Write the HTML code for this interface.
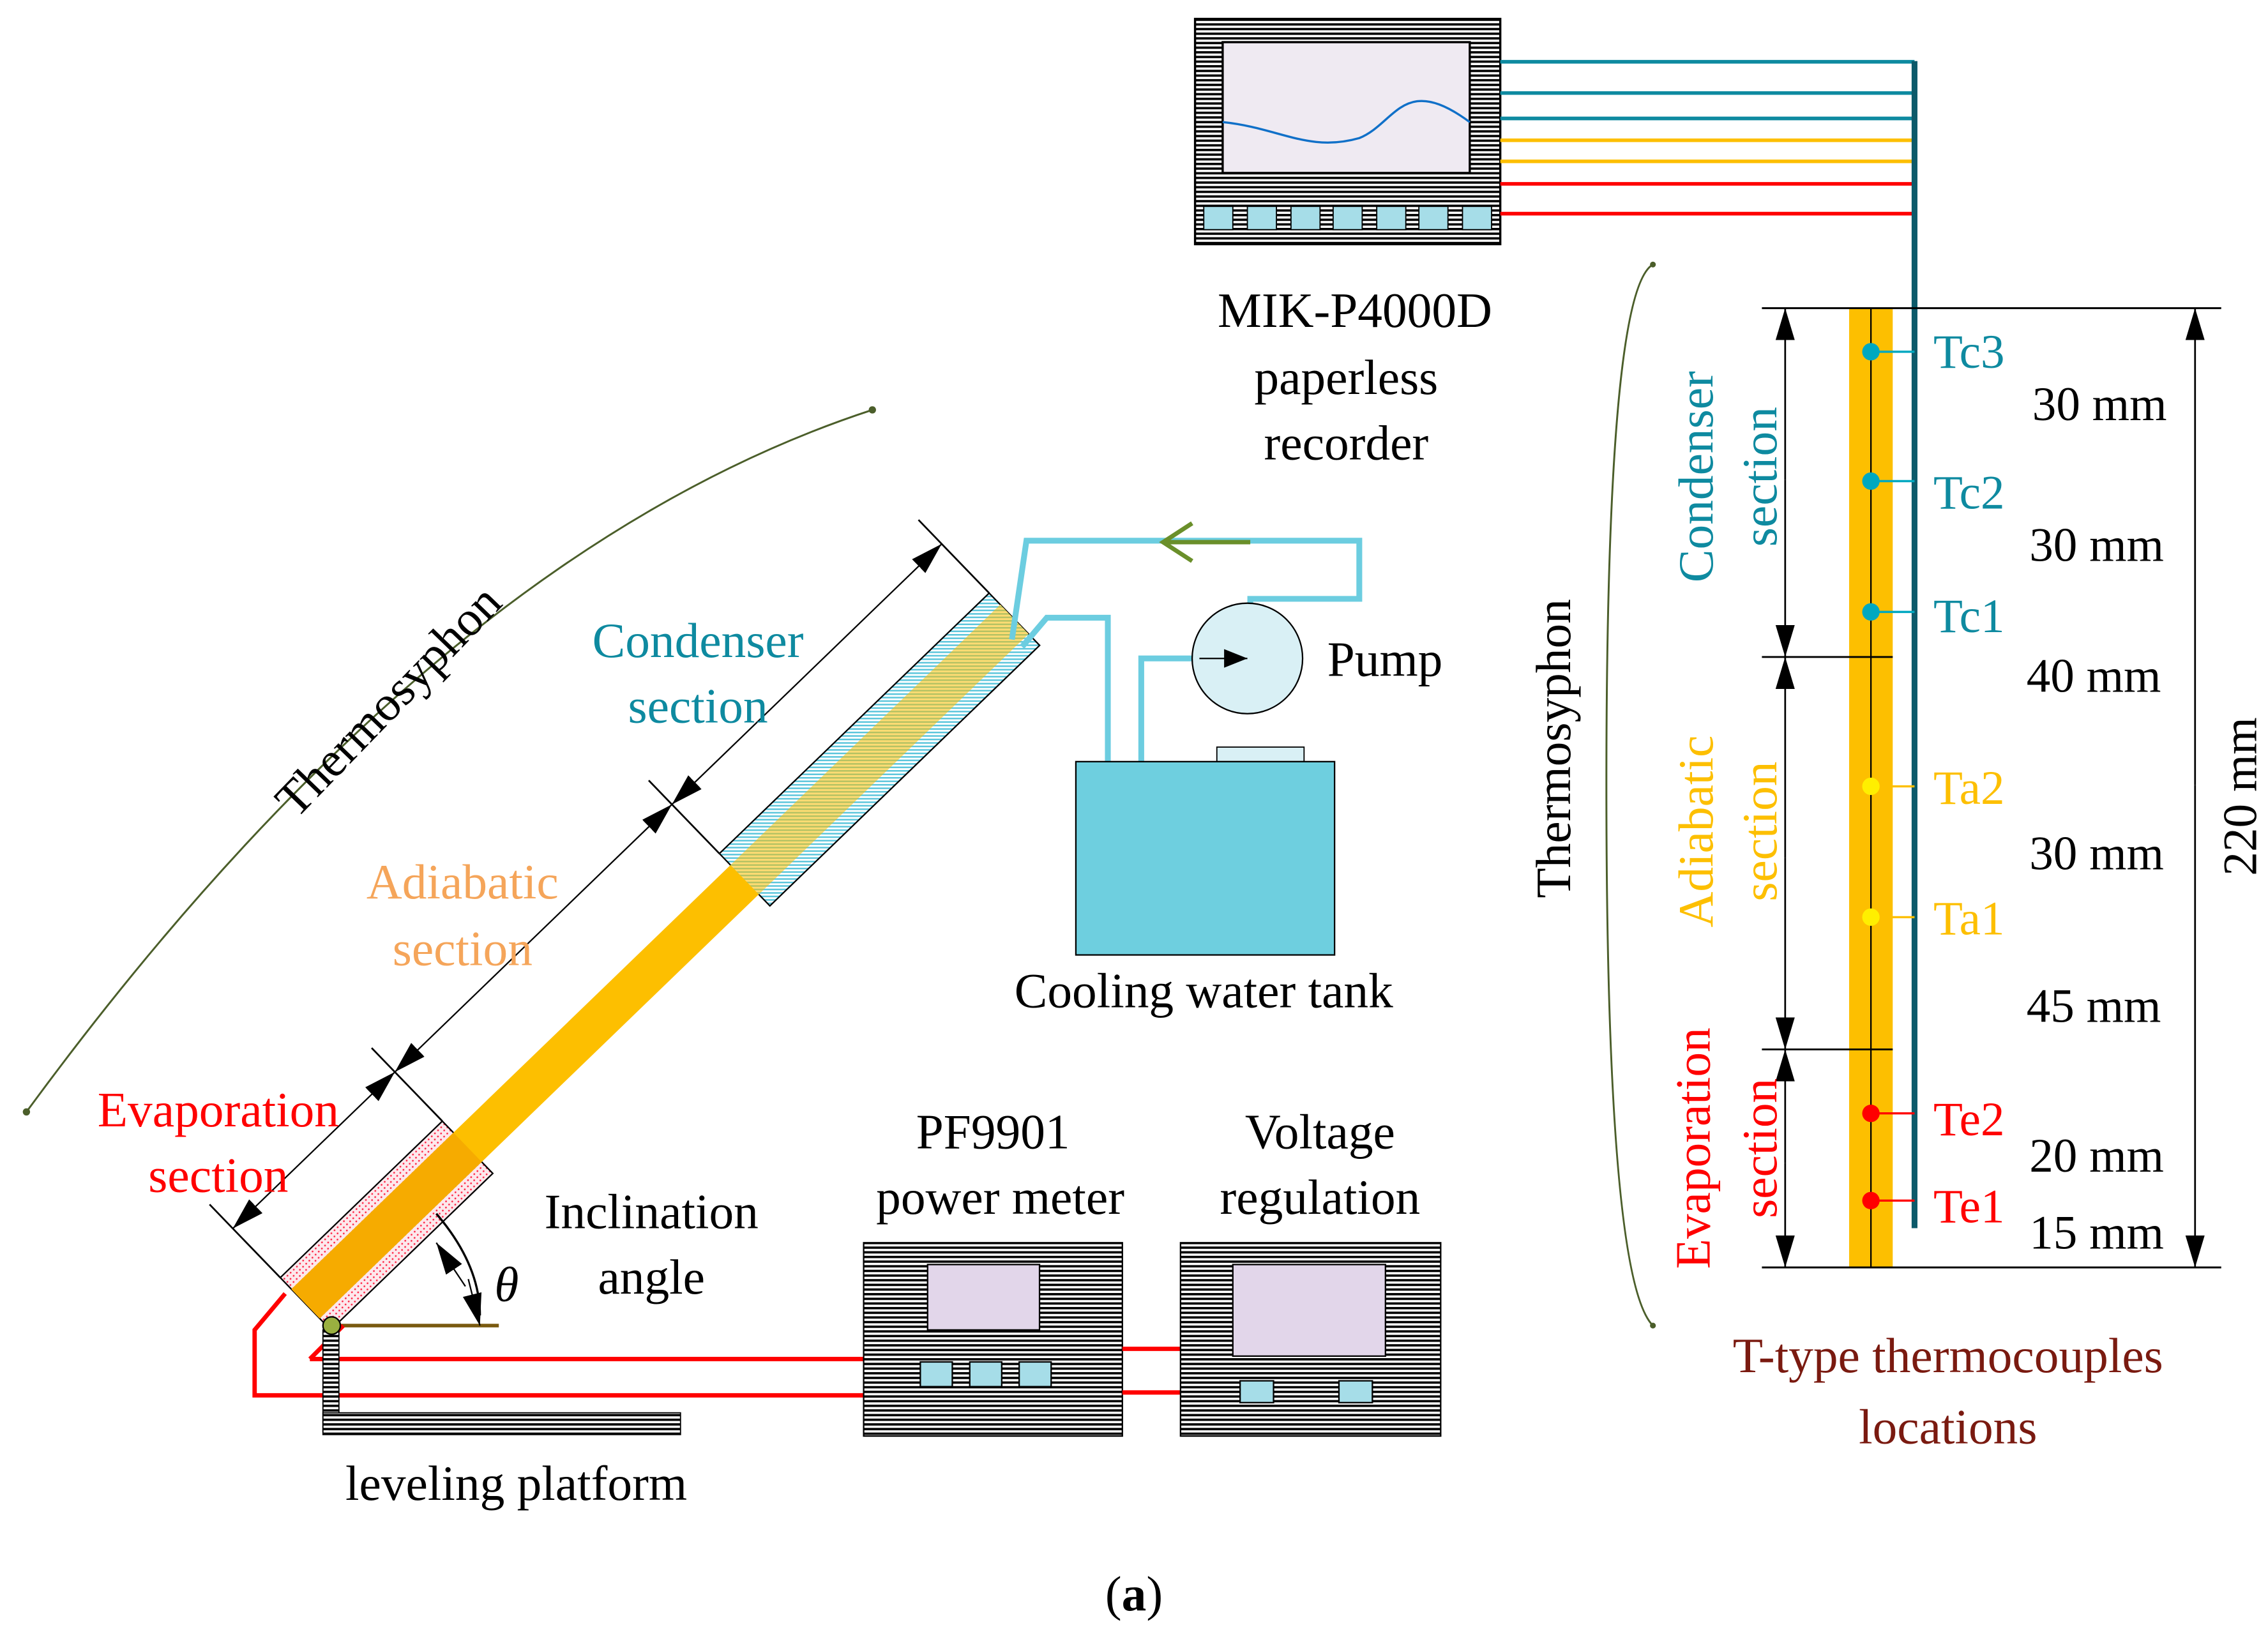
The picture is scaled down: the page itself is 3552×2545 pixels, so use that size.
<!DOCTYPE html>
<html><head><meta charset="utf-8"><style>html,body{margin:0;padding:0;background:#fff}svg{display:block}</style></head>
<body>
<svg width="3552" height="2545" viewBox="0 0 1560 1118" xmlns="http://www.w3.org/2000/svg" font-family="Liberation Serif, serif">
<defs>
<pattern id="st" width="4" height="3.2" patternUnits="userSpaceOnUse"><rect width="4" height="3.2" fill="#fff"/><rect width="4" height="1.6" fill="#000"/></pattern>
<pattern id="cy" width="3" height="2.4" patternUnits="userSpaceOnUse" patternTransform="rotate(44)"><rect width="3" height="2.4" fill="#fff"/><rect width="3" height="1.1" fill="#5cc6dc"/></pattern>
<pattern id="pk" width="3" height="3" patternUnits="userSpaceOnUse"><rect width="3" height="3" fill="#fde8ec"/><circle cx="1.5" cy="1.5" r="0.6" fill="#f24"/></pattern>
<marker id="ah" viewBox="0 0 10 10" refX="10" refY="5" markerWidth="16" markerHeight="16" markerUnits="userSpaceOnUse" orient="auto"><path d="M0,1 L10,5 L0,9z" fill="#000"/></marker>
<marker id="ah2" viewBox="0 0 10 10" refX="10" refY="5" markerWidth="22" markerHeight="30" markerUnits="userSpaceOnUse" orient="auto"><path d="M0,2 L10,5 L0,8z" fill="#000"/></marker>
</defs>

<path d="M18,765 Q300,380 600,282" fill="none" stroke="#4b5e2a" stroke-width="1.3"/>
<circle cx="18" cy="765" r="2.5" fill="#4b5e2a"/><circle cx="600" cy="282" r="2.5" fill="#4b5e2a"/>
<text transform="translate(275,490) rotate(-46)" text-anchor="middle" font-size="34">Thermosyphon</text>

<g transform="translate(210,897) rotate(-44)">
  <rect x="0" y="-25" width="155" height="50" fill="url(#pk)" stroke="#000" stroke-width="1"/>
  <rect x="420" y="-25" width="258" height="50" fill="url(#cy)" stroke="#000" stroke-width="1"/>
  <rect x="0" y="-14" width="678" height="28" fill="#fdbf00"/>
  <rect x="0" y="-14" width="155" height="28" fill="#f2a300" opacity="0.7"/>
  <rect x="420" y="-14" width="258" height="28" fill="url(#cy)" opacity="0.45"/>
  <line x1="0" y1="-95" x2="0" y2="-25" stroke="#000" stroke-width="1.2"/>
  <line x1="155" y1="-95" x2="155" y2="-25" stroke="#000" stroke-width="1.2"/>
  <line x1="420" y1="-95" x2="420" y2="-25" stroke="#000" stroke-width="1.2"/>
  <line x1="678" y1="-95" x2="678" y2="-25" stroke="#000" stroke-width="1.2"/>
  <line x1="78" y1="-72" x2="0" y2="-72" stroke="#000" marker-end="url(#ah2)"/>
  <line x1="78" y1="-72" x2="155" y2="-72" stroke="#000" marker-end="url(#ah2)"/>
  <line x1="285" y1="-72" x2="155" y2="-72" stroke="#000" marker-end="url(#ah2)"/>
  <line x1="285" y1="-72" x2="420" y2="-72" stroke="#000" marker-end="url(#ah2)"/>
  <line x1="547" y1="-72" x2="420" y2="-72" stroke="#000" marker-end="url(#ah2)"/>
  <line x1="547" y1="-72" x2="678" y2="-72" stroke="#000" marker-end="url(#ah2)"/>
</g>
<text x="480" y="452" text-anchor="middle" font-size="34" fill="#0e8aa0">Condenser</text>
<text x="480" y="497" text-anchor="middle" font-size="34" fill="#0e8aa0">section</text>
<text x="318" y="618" text-anchor="middle" font-size="34" fill="#f5a55a">Adiabatic</text>
<text x="318" y="664" text-anchor="middle" font-size="34" fill="#f5a55a">section</text>
<text x="150" y="775" text-anchor="middle" font-size="34" fill="#f00">Evaporation</text>
<text x="150" y="820" text-anchor="middle" font-size="34" fill="#f00">section</text>

<g fill="none" stroke="#6ccde0" stroke-width="4">
<path d="M696,440 L706,372 L935,372 L935,412 L860,412 L860,418"/>
<path d="M703,445 L720,425 L762,425 L762,524"/>
<path d="M785,524 L785,453 L822,453"/>
</g>
<path d="M820,360 L800,373 L820,386 M800,373 L860,373" fill="none" stroke="#6a8f2a" stroke-width="3"/>
<circle cx="858" cy="453" r="38" fill="#d9f0f5" stroke="#000" stroke-width="1"/>
<line x1="825" y1="453" x2="858" y2="453" stroke="#000" marker-end="url(#ah)"/>
<text x="913" y="465" font-size="34">Pump</text>
<rect x="837" y="514" width="60" height="10" fill="#d9f0f5" stroke="#000" stroke-width="0.8"/>
<rect x="740" y="524" width="178" height="133" fill="#6ecfdf" stroke="#000" stroke-width="1"/>
<text x="828" y="693" text-anchor="middle" font-size="34">Cooling water tank</text>

<line x1="225" y1="912" x2="343" y2="912" stroke="#7a5a10" stroke-width="2.5"/>
<path d="M196,890 L175,915 L175,960 L594,960 M213,935 L236,912 M213,935 L594,935" fill="none" stroke="#f00" stroke-width="3"/>
<rect x="222" y="915" width="11" height="70" fill="url(#st)" stroke="#000" stroke-width="0.8"/>
<rect x="222" y="972" width="246" height="15" fill="url(#st)" stroke="#000" stroke-width="0.8"/>
<circle cx="228" cy="912" r="6" fill="#9ab040" stroke="#000" stroke-width="1"/>
<path d="M300,835 Q330,870 330,905" fill="none" stroke="#000" stroke-width="1.5"/>
<line x1="320" y1="885" x2="300" y2="855" stroke="#000" marker-end="url(#ah2)"/>
<line x1="322" y1="880" x2="330" y2="912" stroke="#000" marker-end="url(#ah2)"/>
<text x="340" y="895" font-size="34" font-style="italic">θ</text>
<text x="448" y="845" text-anchor="middle" font-size="34">Inclination</text>
<text x="448" y="890" text-anchor="middle" font-size="34">angle</text>
<text x="355" y="1032" text-anchor="middle" font-size="34">leveling platform</text>

<rect x="594" y="855" width="178" height="133" fill="url(#st)" stroke="#000"/>
<rect x="638" y="870" width="77" height="45" fill="#e2d6ea" stroke="#000"/>
<rect x="633" y="937" width="22" height="17" fill="#a6dde8" stroke="#000"/>
<rect x="667" y="937" width="22" height="17" fill="#a6dde8" stroke="#000"/>
<rect x="701" y="937" width="22" height="17" fill="#a6dde8" stroke="#000"/>
<text x="683" y="790" text-anchor="middle" font-size="34">PF9901</text>
<text x="688" y="835" text-anchor="middle" font-size="34">power meter</text>
<path d="M772,928 L812,928 M772,958 L812,958" stroke="#f00" stroke-width="3"/>
<rect x="812" y="855" width="179" height="133" fill="url(#st)" stroke="#000"/>
<rect x="848" y="870" width="105" height="63" fill="#e2d6ea" stroke="#000"/>
<rect x="853" y="950" width="23" height="15" fill="#a6dde8" stroke="#000"/>
<rect x="921" y="950" width="23" height="15" fill="#a6dde8" stroke="#000"/>
<text x="908" y="790" text-anchor="middle" font-size="34">Voltage</text>
<text x="908" y="835" text-anchor="middle" font-size="34">regulation</text>

<rect x="822" y="13" width="210" height="155" fill="url(#st)" stroke="#000" stroke-width="1.5"/>
<rect x="841" y="29" width="170" height="90" fill="#efeaf2" stroke="#000" stroke-width="1.5"/>
<path d="M841,84 C880,88 900,105 935,95 C960,85 965,50 1011,84" fill="none" stroke="#1070c8" stroke-width="1.5"/>
<g fill="#a6dde8" stroke="#000" stroke-width="0.8">
<rect x="828" y="142" width="20" height="16"/><rect x="858" y="142" width="20" height="16"/><rect x="888" y="142" width="20" height="16"/><rect x="917" y="142" width="20" height="16"/><rect x="947" y="142" width="20" height="16"/><rect x="976" y="142" width="20" height="16"/><rect x="1006" y="142" width="20" height="16"/></g>
<g stroke-width="2.5">
<line x1="1032" y1="42.5" x2="1317" y2="42.5" stroke="#0e8aa0"/>
<line x1="1032" y1="64" x2="1317" y2="64" stroke="#0e8aa0"/>
<line x1="1032" y1="81.5" x2="1317" y2="81.5" stroke="#0e8aa0"/>
<line x1="1032" y1="96.5" x2="1317" y2="96.5" stroke="#fdbf00"/>
<line x1="1032" y1="111" x2="1317" y2="111" stroke="#fdbf00"/>
<line x1="1032" y1="126.5" x2="1317" y2="126.5" stroke="#f00"/>
<line x1="1032" y1="147" x2="1317" y2="147" stroke="#f00"/>
</g>
<text x="932" y="225" text-anchor="middle" font-size="34">MIK-P4000D</text>
<text x="926" y="271" text-anchor="middle" font-size="34">paperless</text>
<text x="926" y="316" text-anchor="middle" font-size="34">recorder</text>

<path d="M1137,182 Q1105,200 1105,540 Q1105,880 1137,912" fill="none" stroke="#4b5e2a" stroke-width="1.3"/>
<circle cx="1137" cy="182" r="2" fill="#4b5e2a"/><circle cx="1137" cy="912" r="2" fill="#4b5e2a"/>
<text transform="translate(1080,515) rotate(-90)" text-anchor="middle" font-size="34">Thermosyphon</text>
<rect x="1272" y="212" width="30" height="660" fill="#fdbf00"/>
<line x1="1287" y1="212" x2="1287" y2="872" stroke="#000" stroke-width="1"/>
<line x1="1317" y1="42" x2="1317" y2="845" stroke="#0c5a6a" stroke-width="4"/>
<g stroke="#000" stroke-width="1.3">
<line x1="1212" y1="212" x2="1528" y2="212"/><line x1="1212" y1="872" x2="1528" y2="872"/>
<line x1="1212" y1="452" x2="1302" y2="452"/><line x1="1212" y1="722" x2="1302" y2="722"/>
</g>
<g stroke="#000" stroke-width="1.2">
<line x1="1228" y1="330" x2="1228" y2="212" marker-end="url(#ah2)"/><line x1="1228" y1="330" x2="1228" y2="452" marker-end="url(#ah2)"/>
<line x1="1228" y1="590" x2="1228" y2="452" marker-end="url(#ah2)"/><line x1="1228" y1="590" x2="1228" y2="722" marker-end="url(#ah2)"/>
<line x1="1228" y1="800" x2="1228" y2="722" marker-end="url(#ah2)"/><line x1="1228" y1="800" x2="1228" y2="872" marker-end="url(#ah2)"/>
<line x1="1510" y1="540" x2="1510" y2="212" marker-end="url(#ah2)"/><line x1="1510" y1="540" x2="1510" y2="872" marker-end="url(#ah2)"/>
</g>
<g stroke-width="1.5">
<line x1="1287" y1="242" x2="1317" y2="242" stroke="#00a8c0"/><line x1="1287" y1="331" x2="1317" y2="331" stroke="#00a8c0"/><line x1="1287" y1="421" x2="1317" y2="421" stroke="#00a8c0"/>
<line x1="1287" y1="541" x2="1317" y2="541" stroke="#fdbf00"/><line x1="1287" y1="631" x2="1317" y2="631" stroke="#fdbf00"/>
<line x1="1287" y1="766" x2="1317" y2="766" stroke="#f00"/><line x1="1287" y1="826" x2="1317" y2="826" stroke="#f00"/>
</g>
<circle cx="1287" cy="242" r="6" fill="#00a8c0"/><circle cx="1287" cy="331" r="6" fill="#00a8c0"/><circle cx="1287" cy="421" r="6" fill="#00a8c0"/>
<circle cx="1287" cy="541" r="6" fill="#ffef00"/><circle cx="1287" cy="631" r="6" fill="#ffef00"/>
<circle cx="1287" cy="766" r="6" fill="#f00"/><circle cx="1287" cy="826" r="6" fill="#f00"/>
<g font-size="33">
<text x="1330" y="253" fill="#0e8aa0">Tc3</text><text x="1330" y="350" fill="#0e8aa0">Tc2</text><text x="1330" y="435" fill="#0e8aa0">Tc1</text>
<text x="1330" y="553" fill="#fdbf00">Ta2</text><text x="1330" y="643" fill="#fdbf00">Ta1</text>
<text x="1330" y="781" fill="#f00">Te2</text><text x="1330" y="841" fill="#f00">Te1</text>
<text x="1398" y="289">30 mm</text><text x="1396" y="386">30 mm</text><text x="1394" y="476">40 mm</text>
<text x="1396" y="598">30 mm</text><text x="1394" y="703">45 mm</text><text x="1396" y="806">20 mm</text><text x="1396" y="859">15 mm</text>
</g>
<text transform="translate(1552,548) rotate(-90)" text-anchor="middle" font-size="33">220 mm</text>
<g font-size="34">
<text transform="translate(1178,328) rotate(-90)" text-anchor="middle" fill="#0e8aa0">Condenser</text>
<text transform="translate(1222,328) rotate(-90)" text-anchor="middle" fill="#0e8aa0">section</text>
<text transform="translate(1178,572) rotate(-90)" text-anchor="middle" fill="#fdbf00">Adiabatic</text>
<text transform="translate(1222,572) rotate(-90)" text-anchor="middle" fill="#fdbf00">section</text>
<text transform="translate(1176,790) rotate(-90)" text-anchor="middle" fill="#f00">Evaporation</text>
<text transform="translate(1222,790) rotate(-90)" text-anchor="middle" fill="#f00">section</text>
</g>
<text x="1340" y="944" text-anchor="middle" font-size="34" fill="#7a1a10">T-type thermocouples</text>
<text x="1340" y="993" text-anchor="middle" font-size="34" fill="#7a1a10">locations</text>
<text x="780" y="1108" text-anchor="middle" font-size="34">(<tspan font-weight="bold">a</tspan>)</text>
</svg>
</body></html>
